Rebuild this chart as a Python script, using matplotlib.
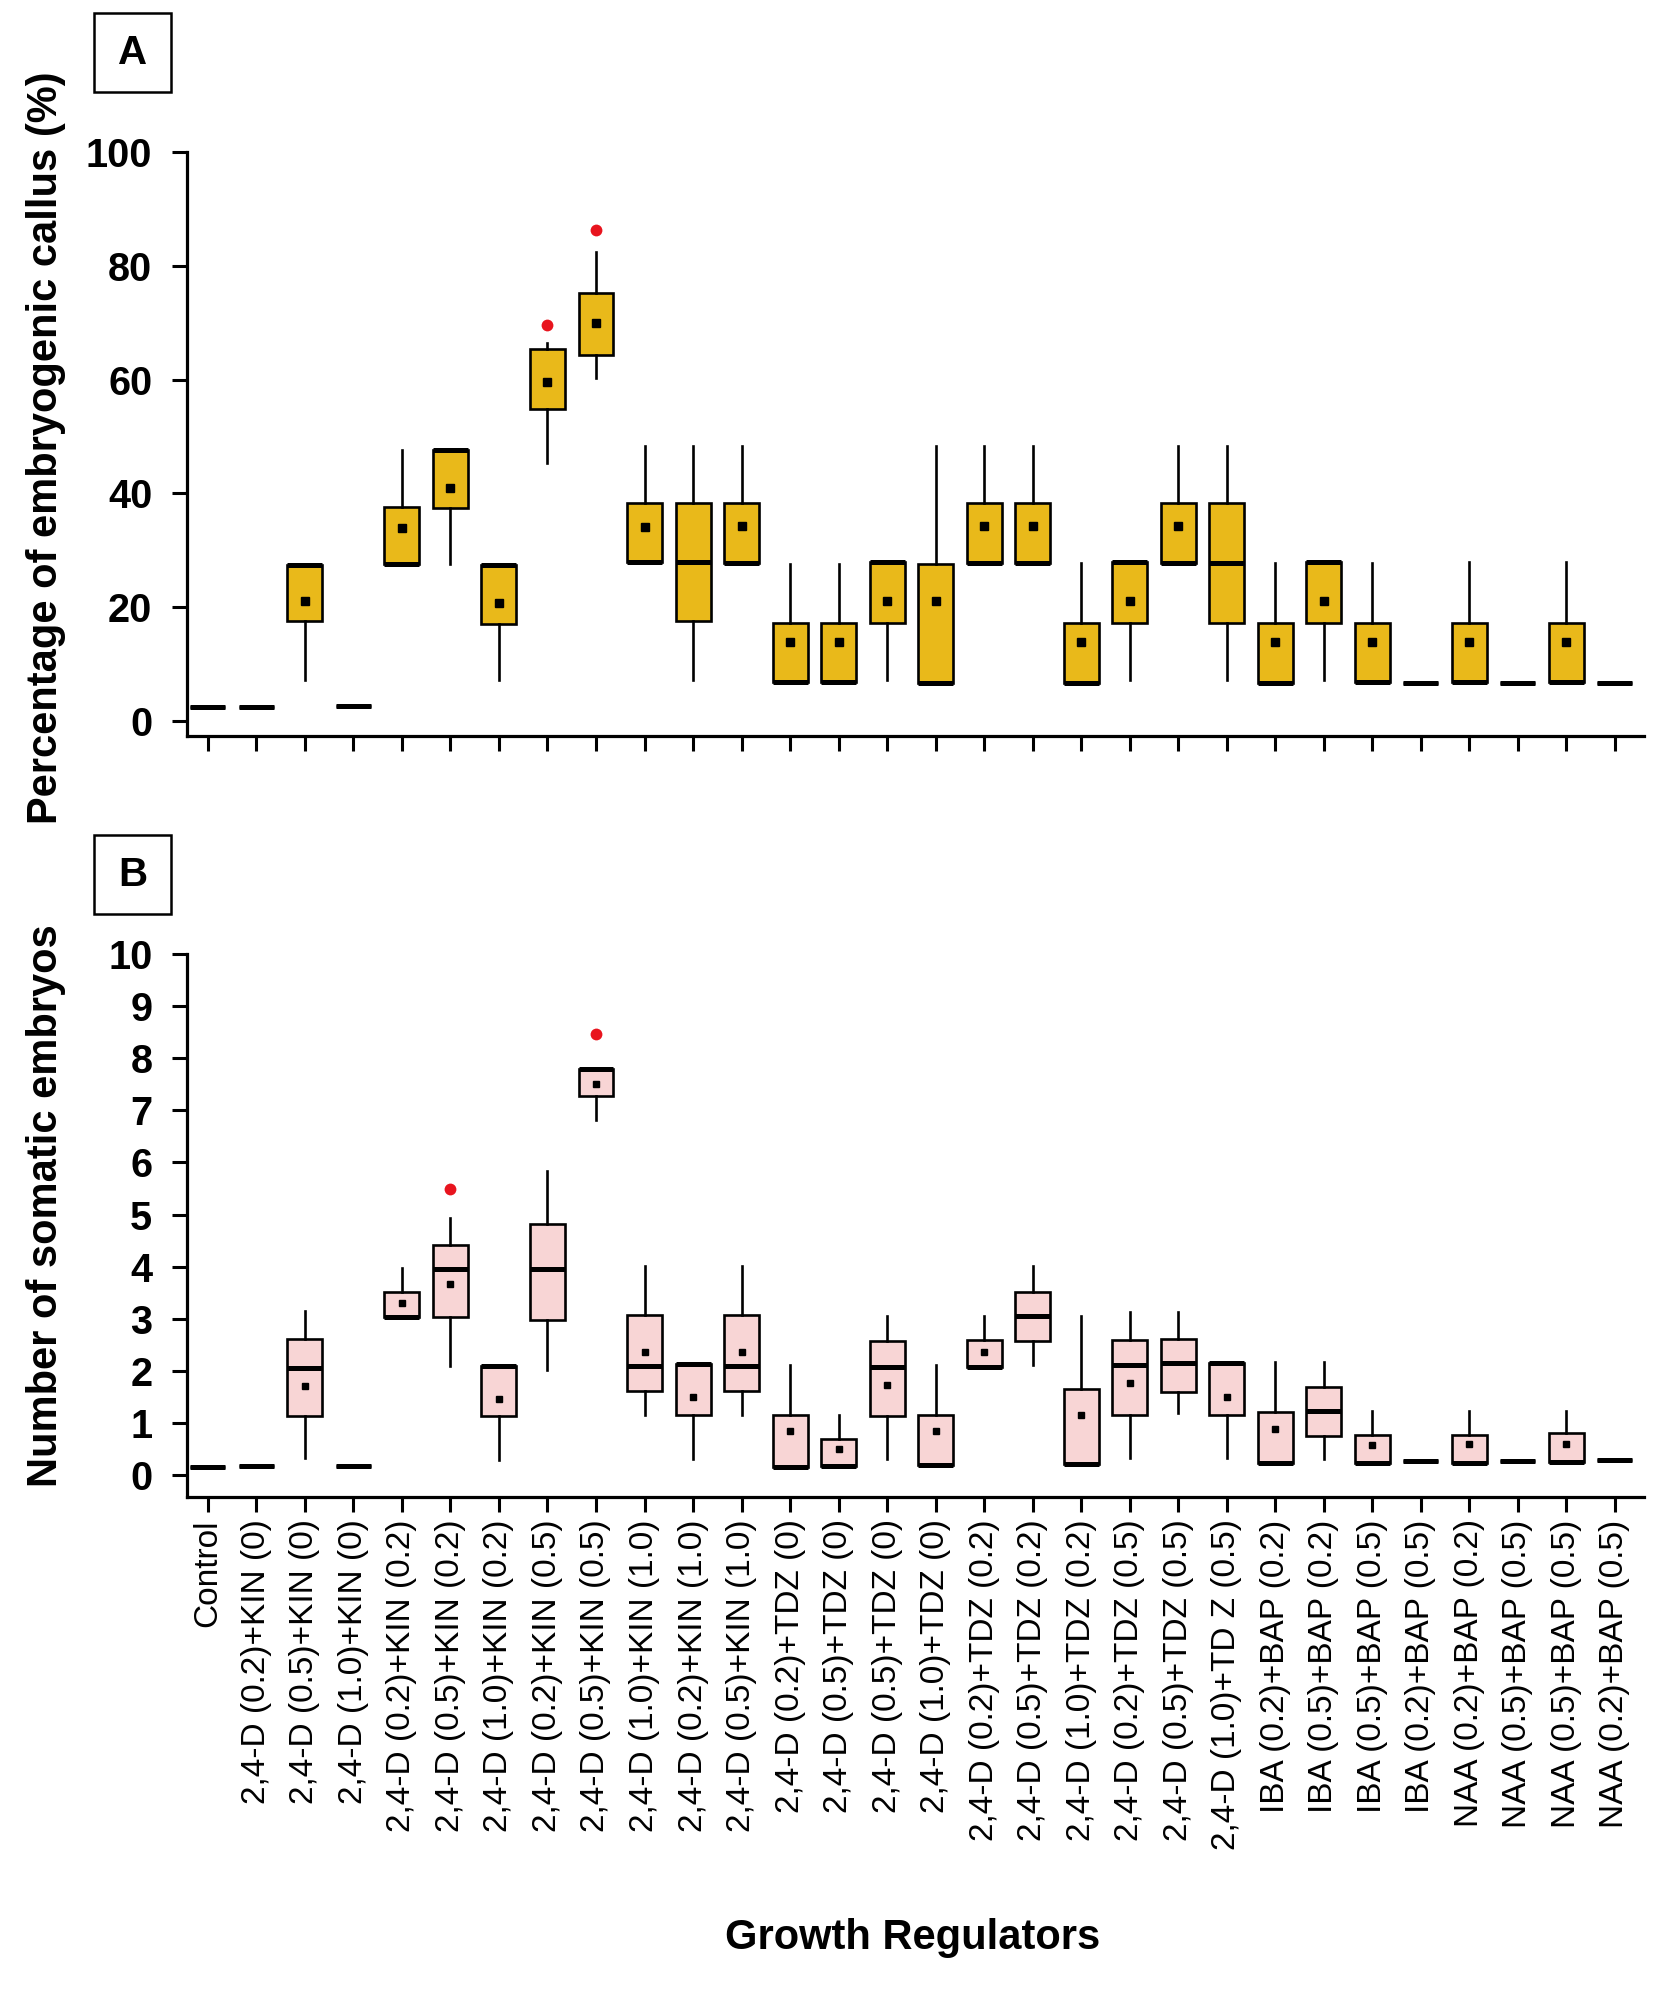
import matplotlib.pyplot as plt
from matplotlib.patches import Rectangle
import numpy as np

plt.rcParams['font.family'] = ['Liberation Sans', 'DejaVu Sans']

nan = np.nan

labels = ["Control",
          "2,4-D (0.2)+KIN (0)", "2,4-D (0.5)+KIN (0)", "2,4-D (1.0)+KIN (0)",
          "2,4-D (0.2)+KIN (0.2)", "2,4-D (0.5)+KIN (0.2)", "2,4-D (1.0)+KIN (0.2)",
          "2,4-D (0.2)+KIN (0.5)", "2,4-D (0.5)+KIN (0.5)", "2,4-D (1.0)+KIN (1.0)",
          "2,4-D (0.2)+KIN (1.0)", "2,4-D (0.5)+KIN (1.0)",
          "2,4-D (0.2)+TDZ (0)", "2,4-D (0.5)+TDZ (0)", "2,4-D (0.5)+TDZ (0)",
          "2,4-D (1.0)+TDZ (0)", "2,4-D (0.2)+TDZ (0.2)", "2,4-D (0.5)+TDZ (0.2)",
          "2,4-D (1.0)+TDZ (0.2)", "2,4-D (0.2)+TDZ (0.5)", "2,4-D (0.5)+TDZ (0.5)",
          "2,4-D (1.0)+TD Z (0.5)",
          "IBA (0.2)+BAP (0.2)", "IBA (0.5)+BAP (0.2)", "IBA (0.5)+BAP (0.5)",
          "IBA (0.2)+BAP (0.5)", "NAA (0.2)+BAP (0.2)", "NAA (0.5)+BAP (0.5)",
          "NAA (0.5)+BAP (0.5)", "NAA (0.2)+BAP (0.5)"]

# A: percentage of embryogenic callus
a_lo   = [2.4, 2.4, 7.2, 2.7, 27.5, 27.5, 7.2, 45.3, 60.2, 27.9, 7.2, 27.7, 6.8, 6.8, 7.2,
          6.7, 27.7, 27.7, 6.7, 7.2, 27.7, 7.2, 6.7, 7.2, 6.9, 6.7, 6.9, 6.7, 6.9, 6.6]
a_q1   = [2.4, 2.4, 17.5, 2.7, 27.5, 37.4, 17.1, 54.9, 64.4, 27.9, 17.5, 27.7, 6.8, 6.8, 17.3,
          6.7, 27.7, 27.7, 6.7, 17.3, 27.7, 17.2, 6.7, 17.3, 6.9, 6.7, 6.9, 6.7, 6.9, 6.6]
a_med  = [2.4, 2.4, 27.4, 2.7, 27.5, 47.7, 27.4, nan, nan, 27.9, 28.0, 27.7, 6.8, 6.8, 28.0,
          6.7, 27.7, 27.7, 6.7, 28.0, 27.7, 27.7, 6.7, 28.0, 6.9, 6.7, 6.9, 6.7, 6.9, 6.6]
a_q3   = [2.4, 2.4, 27.4, 2.7, 37.6, 47.7, 27.4, 65.4, 75.2, 38.3, 38.3, 38.3, 17.2, 17.2, 28.0,
          27.6, 38.3, 38.3, 17.3, 28.0, 38.3, 38.3, 17.3, 28.0, 17.3, 6.7, 17.3, 6.7, 17.3, 6.6]
a_hi   = [2.4, 2.4, 27.4, 2.7, 47.7, 47.7, 27.4, 66.5, 82.5, 48.3, 48.3, 48.3, 27.6, 27.6, 28.0,
          48.3, 48.3, 48.3, 27.7, 28.0, 48.3, 48.3, 27.7, 28.0, 27.7, 6.7, 28.0, 6.7, 28.0, 6.6]
a_mean = [nan, nan, 21.0, nan, 33.9, 41.0, 20.8, 59.6, 70.0, 34.1, nan, 34.3, 13.8, 13.8, 21.0,
          21.0, 34.3, 34.3, 13.8, 21.0, 34.3, nan, 13.8, 21.0, 13.8, nan, 13.8, nan, 13.8, nan]
a_out  = {7: [69.6], 8: [86.3]}

# B: number of somatic embryos
b_lo   = [0.15, 0.17, 0.33, 0.17, 3.03, 2.10, 0.29, 2.01, 6.81, 1.16, 0.31, 1.16, 0.16, 0.18, 0.31,
          0.19, 2.07, 2.11, 0.22, 0.33, 1.19, 0.33, 0.24, 0.31, 0.24, 0.28, 0.24, 0.28, 0.26, 0.30]
b_q1   = [0.15, 0.17, 1.14, 0.17, 3.03, 3.03, 1.14, 2.98, 7.28, 1.62, 1.15, 1.62, 0.16, 0.18, 1.14,
          0.19, 2.07, 2.58, 0.22, 1.15, 1.59, 1.15, 0.24, 0.75, 0.24, 0.28, 0.24, 0.28, 0.26, 0.30]
b_med  = [0.15, 0.17, 2.05, 0.17, 3.03, 3.95, 2.10, 3.95, 7.80, 2.09, 2.13, 2.09, 0.16, 0.18, 2.07,
          0.19, 2.07, 3.06, 0.22, 2.11, 2.15, 2.16, 0.24, 1.23, 0.24, 0.28, 0.24, 0.28, 0.26, 0.30]
b_q3   = [0.15, 0.17, 2.62, 0.17, 3.51, 4.42, 2.10, 4.82, 7.80, 3.07, 2.13, 3.07, 1.15, 0.70, 2.57,
          1.16, 2.60, 3.52, 1.65, 2.59, 2.62, 2.16, 1.21, 1.70, 0.78, 0.28, 0.78, 0.28, 0.80, 0.30]
b_hi   = [0.15, 0.17, 3.15, 0.17, 3.98, 4.93, 2.10, 5.83, 7.80, 4.01, 2.13, 4.01, 2.11, 1.16, 3.06,
          2.11, 3.06, 4.01, 3.06, 3.13, 3.13, 2.16, 2.18, 2.18, 1.23, 0.28, 1.23, 0.28, 1.23, 0.30]
b_mean = [nan, nan, 1.72, nan, 3.30, 3.66, 1.46, nan, 7.51, 2.37, 1.50, 2.37, 0.85, 0.50, 1.74,
          0.85, 2.37, nan, 1.16, 1.76, nan, 1.50, 0.88, nan, 0.57, nan, 0.59, nan, 0.59, nan]
b_out  = {5: [5.49], 8: [8.47]}


def make_stats(lo, q1, med, q3, hi, mean, out):
    stats = []
    for i in range(len(lo)):
        stats.append(dict(whislo=lo[i], q1=q1[i], med=med[i], q3=q3[i], whishi=hi[i],
                          mean=mean[i], fliers=out.get(i, [])))
    return stats


def draw(ax, stats, fill, msize):
    ax.bxp(stats, positions=range(len(stats)), widths=0.72, patch_artist=True,
           showmeans=True, showcaps=False,
           boxprops=dict(facecolor=fill, edgecolor='black', linewidth=1.9),
           medianprops=dict(color='black', linewidth=3.6, solid_capstyle='butt'),
           whiskerprops=dict(color='black', linewidth=1.9),
           meanprops=dict(marker='s', markerfacecolor='black', markeredgecolor='black',
                          markersize=msize),
           flierprops=dict(marker='o', markerfacecolor='#E8141E', markeredgecolor='none',
                           markersize=8.5))
    ax.spines['top'].set_visible(False)
    ax.spines['right'].set_visible(False)
    ax.spines['left'].set_linewidth(2.3)
    ax.spines['bottom'].set_linewidth(2.3)
    ax.set_xlim(-0.43, 29.6)
    ax.set_xticks(range(len(stats)))
    ax.tick_params(axis='both', length=11, width=2.2)
    ax.tick_params(axis='y', pad=14, labelsize=28.5)
    for t in ax.get_yticklabels():
        t.set_fontweight('bold')


fig = plt.figure(figsize=(16.65, 19.94), dpi=100)
axA = fig.add_axes([0.1123, 0.6309, 0.8751, 0.2929])
axB = fig.add_axes([0.1123, 0.2492, 0.8751, 0.2724])

draw(axA, make_stats(a_lo, a_q1, a_med, a_q3, a_hi, a_mean, a_out), '#E9B91A', 5.8)
axA.set_ylim(-2.64, 100)
axA.set_yticks([0, 20, 40, 60, 80, 100])
axA.set_yticklabels(['0', '20', '40', '60', '80', '100'], fontweight='bold', fontsize=28.5)
axA.set_xticklabels([])

draw(axB, make_stats(b_lo, b_q1, b_med, b_q3, b_hi, b_mean, b_out), '#F8D5D5', 4.5)
axB.set_ylim(-0.42, 10)
axB.set_yticks(range(11))
axB.set_yticklabels([str(v) for v in range(11)], fontweight='bold', fontsize=28.5)
axB.set_xticklabels(labels, rotation=90, fontsize=24)
axB.tick_params(axis='x', pad=5)

fig.text(46 / 1665, 1 - 448 / 1994, 'Percentage of embryogenic callus (%)', rotation=90,
         ha='center', va='center', fontsize=30, fontweight='bold')
fig.text(46 / 1665, 1 - 1206 / 1994, 'Number of somatic embryos', rotation=90,
         ha='center', va='center', fontsize=30, fontweight='bold')
fig.text(913 / 1665, 1 - 1938 / 1994, 'Growth Regulators', ha='center', va='center',
         fontsize=30, fontweight='bold')

# panel letters in boxes
for letter, top in [('A', 13), ('B', 835)]:
    fig.patches.append(Rectangle((94 / 1665, 1 - (top + 79) / 1994), 77 / 1665, 79 / 1994,
                                 transform=fig.transFigure, fill=False,
                                 edgecolor='black', linewidth=1.8))
    fig.text(132.5 / 1665, 1 - (top + 40) / 1994, letter, ha='center', va='center',
             fontsize=29, fontweight='bold')

fig.savefig('out.png', dpi=100, facecolor='white')
